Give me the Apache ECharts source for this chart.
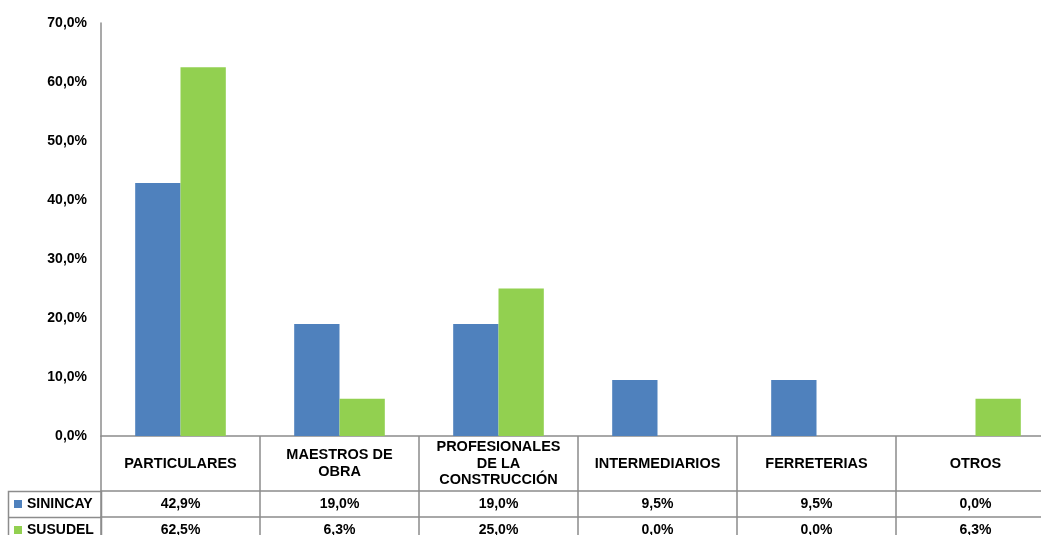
<!DOCTYPE html>
<html>
<head>
<meta charset="utf-8">
<script src="https://cdn.jsdelivr.net/npm/echarts@6/dist/echarts.min.js"></script>
<style>html,body{margin:0;padding:0;background:#fff}#c{width:1041px;height:535px}</style>
</head>
<body>
<div id="c"></div>
<script>
const categories = ['PARTICULARES', 'MAESTROS DE\nOBRA', 'PROFESIONALES\nDE LA\nCONSTRUCCIÓN', 'INTERMEDIARIOS', 'FERRETERIAS', 'OTROS'];
const seriesNames = ['SININCAY', 'SUSUDEL'];
const sinincay = [42.9, 19.0, 19.0, 9.5, 9.5, 0.0];
const susudel = [62.5, 6.3, 25.0, 0.0, 0.0, 6.3];
const yMin = 0, yMax = 70, yStep = 10;
const colors = ['#4F81BD', '#92D050'];

const FONT = "'Liberation Sans', Arial, sans-serif";
const FS = 14;
const LINE = '#8c8c8c';
const LW = 1.5;
const gridLeft = 101, gridTop = 23, gridBottomY = 436;
const headerH = 55, rowH = 26;
const fmt = v => v.toFixed(1).replace('.', ',') + '%';

const chart = echarts.init(document.getElementById('c'), null, {renderer: 'canvas'});
const baseText = {fontFamily: FONT, fontSize: FS, fontWeight: 'bold', color: '#000'};

function tableAxis(offset, values) {
  return {
    type: 'category', position: 'bottom', offset: offset, data: categories,
    axisLine: {show: true, lineStyle: {color: LINE, width: LW}},
    axisTick: {show: true, length: rowH, interval: 0, lineStyle: {color: LINE, width: LW}},
    axisLabel: Object.assign({}, baseText, {interval: 0, margin: rowH / 2, verticalAlign: 'middle',
      formatter: (v, i) => fmt(values[i])}),
    splitLine: {show: false}
  };
}

function legendFor(i) {
  return {
    data: [seriesNames[i]], orient: 'vertical', left: 14, top: gridBottomY + headerH + i * rowH + 5,
    padding: 0, itemWidth: 8, itemHeight: 8, itemTextGap: 2, icon: 'rect',
    textStyle: Object.assign({}, baseText, {lineHeight: 16}), selectedMode: false
  };
}

chart.setOption({
  animation: false,
  backgroundColor: '#fff',
  grid: {left: gridLeft, top: gridTop, width: 954, bottom: 535 - gridBottomY, containLabel: false, outerBoundsMode: 'none'},
  legend: [legendFor(0), legendFor(1)],
  xAxis: [
    {
      type: 'category', data: categories, position: 'bottom',
      axisLine: {show: true, lineStyle: {color: LINE, width: LW}},
      axisTick: {show: true, length: headerH, interval: 0, lineStyle: {color: LINE, width: LW}},
      axisLabel: Object.assign({}, baseText, {fontSize: 14.5, interval: 0, margin: headerH / 2, verticalAlign: 'middle', lineHeight: 16.5, align: 'center'}),
      splitLine: {show: false}
    },
    tableAxis(headerH, sinincay),
    tableAxis(headerH + rowH, susudel)
  ],
  yAxis: {
    type: 'value', min: yMin, max: yMax, interval: yStep,
    axisLine: {show: true, lineStyle: {color: LINE, width: LW}},
    axisTick: {show: false},
    splitLine: {show: false},
    axisLabel: Object.assign({}, baseText, {margin: 14, formatter: v => fmt(v)})
  },
  series: [
    {name: seriesNames[0], type: 'bar', data: sinincay, itemStyle: {color: colors[0]}, barGap: '0%', barCategoryGap: '43%'},
    {name: seriesNames[1], type: 'bar', data: susudel, itemStyle: {color: colors[1]}, barGap: '0%', barCategoryGap: '43%'}
  ],
  graphic: [
    {type: 'rect', shape: {x: 8.5, y: gridBottomY + headerH + 0.5, width: gridLeft - 8, height: rowH * 2},
     style: {fill: 'none', stroke: LINE, lineWidth: LW}, silent: true, z: 0},
    {type: 'line', shape: {x1: 8.5, y1: gridBottomY + headerH + rowH + 0.5, x2: gridLeft, y2: gridBottomY + headerH + rowH + 0.5},
     style: {stroke: LINE, lineWidth: LW}, silent: true, z: 0}
  ]
});
</script>
</body>
</html>
